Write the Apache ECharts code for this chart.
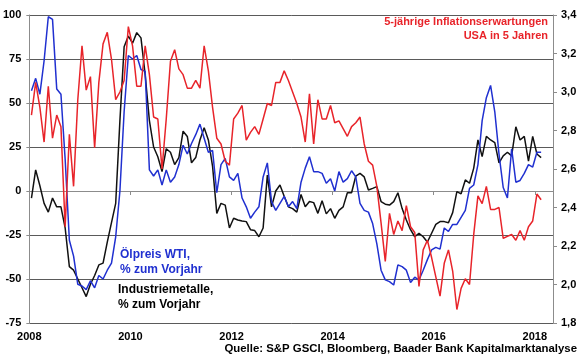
<!DOCTYPE html>
<html><head><meta charset="utf-8">
<script src="https://cdn.jsdelivr.net/npm/echarts@6/dist/echarts.min.js"></script>
<style>html,body{margin:0;padding:0;background:#fff}#c{width:580px;height:358px}</style>
</head><body><div id="c"></div>
<script>
// Monthly data, Jan 2008 .. Feb 2018
const startYear = 2008;
const oilWTI = [57,64,55,74,99,97.5,58,55,18,-28,-37,-53,
  -54,-56,-51,-55,-48,-50,-45,-41,-26,0,45,77,
  75,77,69,68,12,8.5,12,3.4,12,5,8,15,
  26,21,27,32,38,30,22,23,-1,15,18.5,8,
  6,10,-4,-9,-15.5,-12,-9,8,16,-6,-11,-7,
  -3,-9,-6,-10,5,13,19.5,11,11,10,4.4,7,
  0,11,5,7,11.5,8,-7,-11,-12,-18.5,-30,-45,
  -50.5,-51.5,-53.4,-42,-43,-45,-52,-49,-50.6,-45,-39,-33.5,
  -32,-33,-21,-23,-19,-19,-15,-11,1.5,3.4,15,40,
  53,60,45,21,2,-4,24,5,6,10,15,13.6,
  22,22];
const metals = [-4,12,3,-7,-12,-4,-9,-9,-21,-43,-45,-50,
  -55,-60,-53,-48,-42,-41,-29,-18,-7,40,82,88,
  84,90,87,66,40,25,19.5,11,24,22,15,19,
  34,31,16,19,29,36,29,14,-12.7,-7,-8,-21,
  -15.5,-16.5,-17,-17.4,-22,-22.5,-26,-21,9,-9,0,3.4,
  -3,-9,-10,-12,-2,-9,-6,-6.6,-12.7,-5.5,-13,-10,
  -15.5,-11,-9,-1,-1,8.5,10,8,0.6,1.5,2.5,-6,
  -7.5,-8,-6,-1,-10,-16.5,-22,-26,-24,-26,-29,-24,
  -19,-17.4,-17.4,-18,-12.3,-0.4,-1.6,6.3,4.4,13,29,19.5,
  31,29,27.5,16,20,22,20,36.5,29,31,17,31,
  21,19];
const inflation5y5y = [2.88,3.05,2.92,2.74,3.03,2.76,2.88,2.82,2.30,2.78,2.51,2.96,
  3.24,3.01,3.08,2.71,3.05,3.25,3.31,3.17,2.96,3.00,3.06,3.34,
  3.24,3.03,3.03,3.24,3.09,2.87,2.86,2.60,2.86,3.16,3.22,3.12,
  3.09,3.02,3.02,3.06,3.02,3.24,3.11,2.92,2.76,2.73,2.64,2.62,
  2.86,2.89,2.93,2.75,2.79,2.82,2.78,2.86,2.94,2.93,3.05,3.05,
  3.11,3.06,3.00,2.94,2.87,2.74,2.99,2.73,2.96,2.86,2.86,2.93,
  2.84,2.85,2.81,2.77,2.82,2.84,2.87,2.73,2.64,2.62,2.51,2.32,
  2.12,2.37,2.26,2.33,2.28,2.41,2.30,2.27,1.99,2.18,2.23,2.14,
  2.04,1.94,2.11,2.18,2.07,1.87,1.98,2.03,2.00,2.26,2.46,2.42,
  2.51,2.39,2.39,2.40,2.24,2.25,2.26,2.23,2.28,2.23,2.30,2.33,
  2.47,2.44];
const leftTicks = [-75,-50,-25,0,25,50,75,100];
const rightTicks = [1.8,2.0,2.2,2.4,2.6,2.8,3.0,3.2,3.4];
const yearTicks = [2008,2010,2012,2014,2016,2018];

const monthPos = i => startYear + (i + 0.5) / 12;
const toPairs = arr => arr.map((v, i) => [monthPos(i), v]);

const FONT = "'Liberation Sans', Arial, sans-serif";
const chart = echarts.init(document.getElementById('c'), null, {renderer: 'canvas'});
chart.setOption({
  animation: false,
  backgroundColor: '#fff',
  grid: {left: 29, right: 27, top: 15, bottom: 35},
  xAxis: {
    type: 'value', min: yearTicks[0], max: 2018.36, interval: 2,
    axisLine: {show: true, lineStyle: {color: '#8c8c8c', width: 1}},
    axisTick: {show: true, length: 4, lineStyle: {color: '#8c8c8c'}},
    splitLine: {show: false},
    axisLabel: {
      margin: 8, color: '#000', fontWeight: 'bold', fontSize: 11, fontFamily: FONT,
      formatter: v => yearTicks.indexOf(Math.round(v)) >= 0 && Math.abs(v - Math.round(v)) < 1e-6 ? String(Math.round(v)) : ''
    }
  },
  yAxis: [{
    type: 'value', min: leftTicks[0], max: leftTicks[leftTicks.length-1], interval: 25, position: 'left',
    axisLine: {show: true, lineStyle: {color: '#8c8c8c', width: 1}},
    axisTick: {show: true, length: 3, lineStyle: {color: '#8c8c8c'}},
    splitLine: {show: true, lineStyle: {color: '#5a5a5a', width: 1}},
    axisLabel: {margin: 8, color: '#000', fontWeight: 'bold', fontSize: 11, fontFamily: FONT}
  }, {
    type: 'value', min: rightTicks[0], max: rightTicks[rightTicks.length-1], interval: 0.2, position: 'right',
    axisLine: {show: true, lineStyle: {color: '#8c8c8c', width: 1}},
    axisTick: {show: true, length: 4, lineStyle: {color: '#8c8c8c'}},
    splitLine: {show: false},
    axisLabel: {margin: 8, color: '#000', fontWeight: 'bold', fontSize: 11, fontFamily: FONT,
      formatter: v => v.toFixed(1).replace('.', ',')}
  }],
  series: [{
    name: 'Industriemetalle', type: 'line', yAxisIndex: 0, data: toPairs(metals),
    showSymbol: false, lineStyle: {color: '#111', width: 1.5}, itemStyle: {color: '#111'}
  }, {
    name: 'Ölpreis WTI', type: 'line', yAxisIndex: 0, data: toPairs(oilWTI),
    showSymbol: false, lineStyle: {color: '#2030d0', width: 1.5}, itemStyle: {color: '#2030d0'}
  }, {
    name: 'Inflationserwartungen', type: 'line', yAxisIndex: 1, data: toPairs(inflation5y5y),
    showSymbol: false, lineStyle: {color: '#e8242a', width: 1.5}, itemStyle: {color: '#e8242a'}
  }],
  graphic: [{
    type: 'text', x: 548, y: 15,
    style: {text: '5-jährige Inflationserwartungen\nUSA in 5 Jahren', fill: '#e8242a', font: "bold 11px " + FONT,
      textAlign: 'right', lineHeight: 14}
  }, {
    type: 'text', x: 120, y: 247,
    style: {text: 'Ölpreis WTI,\n% zum Vorjahr', fill: '#2030d0', font: "bold 12px " + FONT, textAlign: 'left', lineHeight: 15}
  }, {
    type: 'text', x: 118, y: 282,
    style: {text: 'Industriemetalle,\n% zum Vorjahr', fill: '#000', font: "bold 12px " + FONT, textAlign: 'left', lineHeight: 15}
  }, {
    type: 'text', x: 577, y: 343,
    style: {text: 'Quelle: S&P GSCI, Bloomberg, Baader Bank Kapitalmarktanalyse', fill: '#000', font: "bold 11.4px " + FONT, textAlign: 'right'}
  }]
});
</script></body></html>
